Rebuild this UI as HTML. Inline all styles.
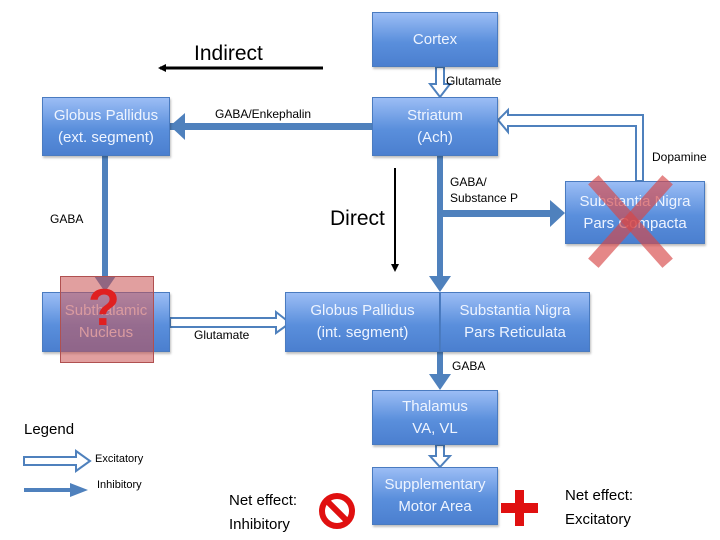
<!DOCTYPE html>
<html><head><style>
body{margin:0;width:720px;height:540px;background:#fff;position:relative;overflow:hidden;font-family:"Liberation Sans",sans-serif}
.b{position:absolute;background:linear-gradient(#9bbdf5,#5a8fdc 55%,#4b7fcf);border:1px solid #4a7bc0;color:#eef4ff;text-align:center;font-size:15px;line-height:22px;display:flex;align-items:center;justify-content:center;box-sizing:border-box;box-shadow:1px 2px 2px rgba(0,0,0,.25)}
.t{position:absolute;font-size:12px;color:#000;white-space:nowrap}
</style></head><body>
<svg width="720" height="540" style="position:absolute;left:0;top:0">
<defs>
<marker id="k" markerWidth="8" markerHeight="8" refX="6" refY="4" orient="auto" markerUnits="userSpaceOnUse"><path d="M0,0 L8,4 L0,8 z" fill="#000"/></marker>
</defs>
<g fill="#4f81bd">
<rect x="170" y="123" width="202" height="7"/><path d="M185,113 L170,126 L185,140 z"/>
<rect x="102" y="156" width="6" height="120"/><path d="M94,276 L116,276 L105,292 z"/>
<rect x="437" y="156" width="6" height="120"/><path d="M429,276 L451,276 L440,292 z"/>
<rect x="440" y="210" width="110" height="7"/><path d="M550,200 L565,213 L550,227 z"/>
<rect x="437" y="352" width="6" height="24"/><path d="M429,374 L451,374 L440,390 z"/>
<path d="M24,488 L70,488 L70,483 L88,490 L70,497 L70,492 L24,492 z" fill="#4f81bd"/>
</g>
<g fill="#fff" stroke="#4f81bd" stroke-width="2">
<path d="M436,67 L444,67 L444,84 L450,84 L440,97 L430,84 L436,84 z"/>
<path d="M436,445 L444,445 L444,456 L450,456 L440,467 L430,456 L436,456 z"/>
<path d="M170,318 L276,318 L276,312 L290,323 L276,333 L276,327 L170,327 z"/>
<path d="M643,181 L643,115 L508,115 L508,110 L498,120 L508,132 L508,126 L636,126 L636,181 z"/>
<path d="M24,457 L76,457 L76,451 L90,461 L76,471 L76,465 L24,465 z"/>
</g>
<line x1="323" y1="68" x2="160" y2="68" stroke="#000" stroke-width="3" marker-end="url(#k)"/>
<line x1="395" y1="168" x2="395" y2="270" stroke="#000" stroke-width="2" marker-end="url(#k)"/>
</svg>
<div class="b" style="left:372px;top:12px;width:126px;height:55px">Cortex</div>
<div class="b" style="left:372px;top:97px;width:126px;height:59px">Striatum<br>(Ach)</div>
<div class="b" style="left:42px;top:97px;width:128px;height:59px">Globus Pallidus<br>(ext. segment)</div>
<div class="b" style="left:565px;top:181px;width:140px;height:63px">Substantia Nigra<br>Pars Compacta</div>
<div class="b" style="left:42px;top:292px;width:128px;height:60px">Subthalamic<br>Nucleus</div>
<div class="b" style="left:285px;top:292px;width:155px;height:60px">Globus Pallidus<br>(int. segment)</div>
<div class="b" style="left:440px;top:292px;width:150px;height:60px">Substantia Nigra<br>Pars Reticulata</div>
<div class="b" style="left:372px;top:390px;width:126px;height:55px">Thalamus<br>VA, VL</div>
<div class="b" style="left:372px;top:467px;width:126px;height:58px">Supplementary<br>Motor Area</div>
<div style="position:absolute;left:60px;top:276px;width:92px;height:85px;background:rgba(200,80,80,.55);border:1px solid #b05050"></div>
<div style="position:absolute;left:88px;top:278px;font-size:52px;line-height:60px;color:#e02020;font-weight:bold">?</div>
<svg width="720" height="540" style="position:absolute;left:0;top:0">
<g stroke="rgba(215,70,70,.65)" stroke-width="14" stroke-linecap="square"><line x1="598" y1="185" x2="663" y2="258"/><line x1="663" y1="185" x2="598" y2="258"/></g>
<circle cx="337" cy="511" r="15" fill="none" stroke="#e01010" stroke-width="6"/><line x1="327" y1="501" x2="347" y2="521" stroke="#e01010" stroke-width="6"/>
<path d="M515,490 h9 v13 h14 v10 h-14 v13 h-9 v-13 h-14 v-10 h14 z" fill="#e01010"/>
</svg>
<div class="t" style="left:194px;top:42px;font-size:21px">Indirect</div>
<div class="t" style="left:330px;top:207px;font-size:21px">Direct</div>
<div class="t" style="left:446px;top:74px">Glutamate</div>
<div class="t" style="left:215px;top:107px">GABA/Enkephalin</div>
<div class="t" style="left:652px;top:150px">Dopamine</div>
<div class="t" style="left:450px;top:174px;line-height:16px">GABA/<br>Substance P</div>
<div class="t" style="left:50px;top:212px">GABA</div>
<div class="t" style="left:194px;top:328px">Glutamate</div>
<div class="t" style="left:452px;top:359px">GABA</div>
<div class="t" style="left:24px;top:421px;font-size:15px">Legend</div>
<div class="t" style="left:95px;top:453px;font-size:11px">Excitatory</div>
<div class="t" style="left:97px;top:479px;font-size:11px">Inhibitory</div>
<div class="t" style="left:229px;top:489px;font-size:15px;line-height:24px">Net effect:<br>Inhibitory</div>
<div class="t" style="left:565px;top:484px;font-size:15px;line-height:24px">Net effect:<br>Excitatory</div>
</body></html>
